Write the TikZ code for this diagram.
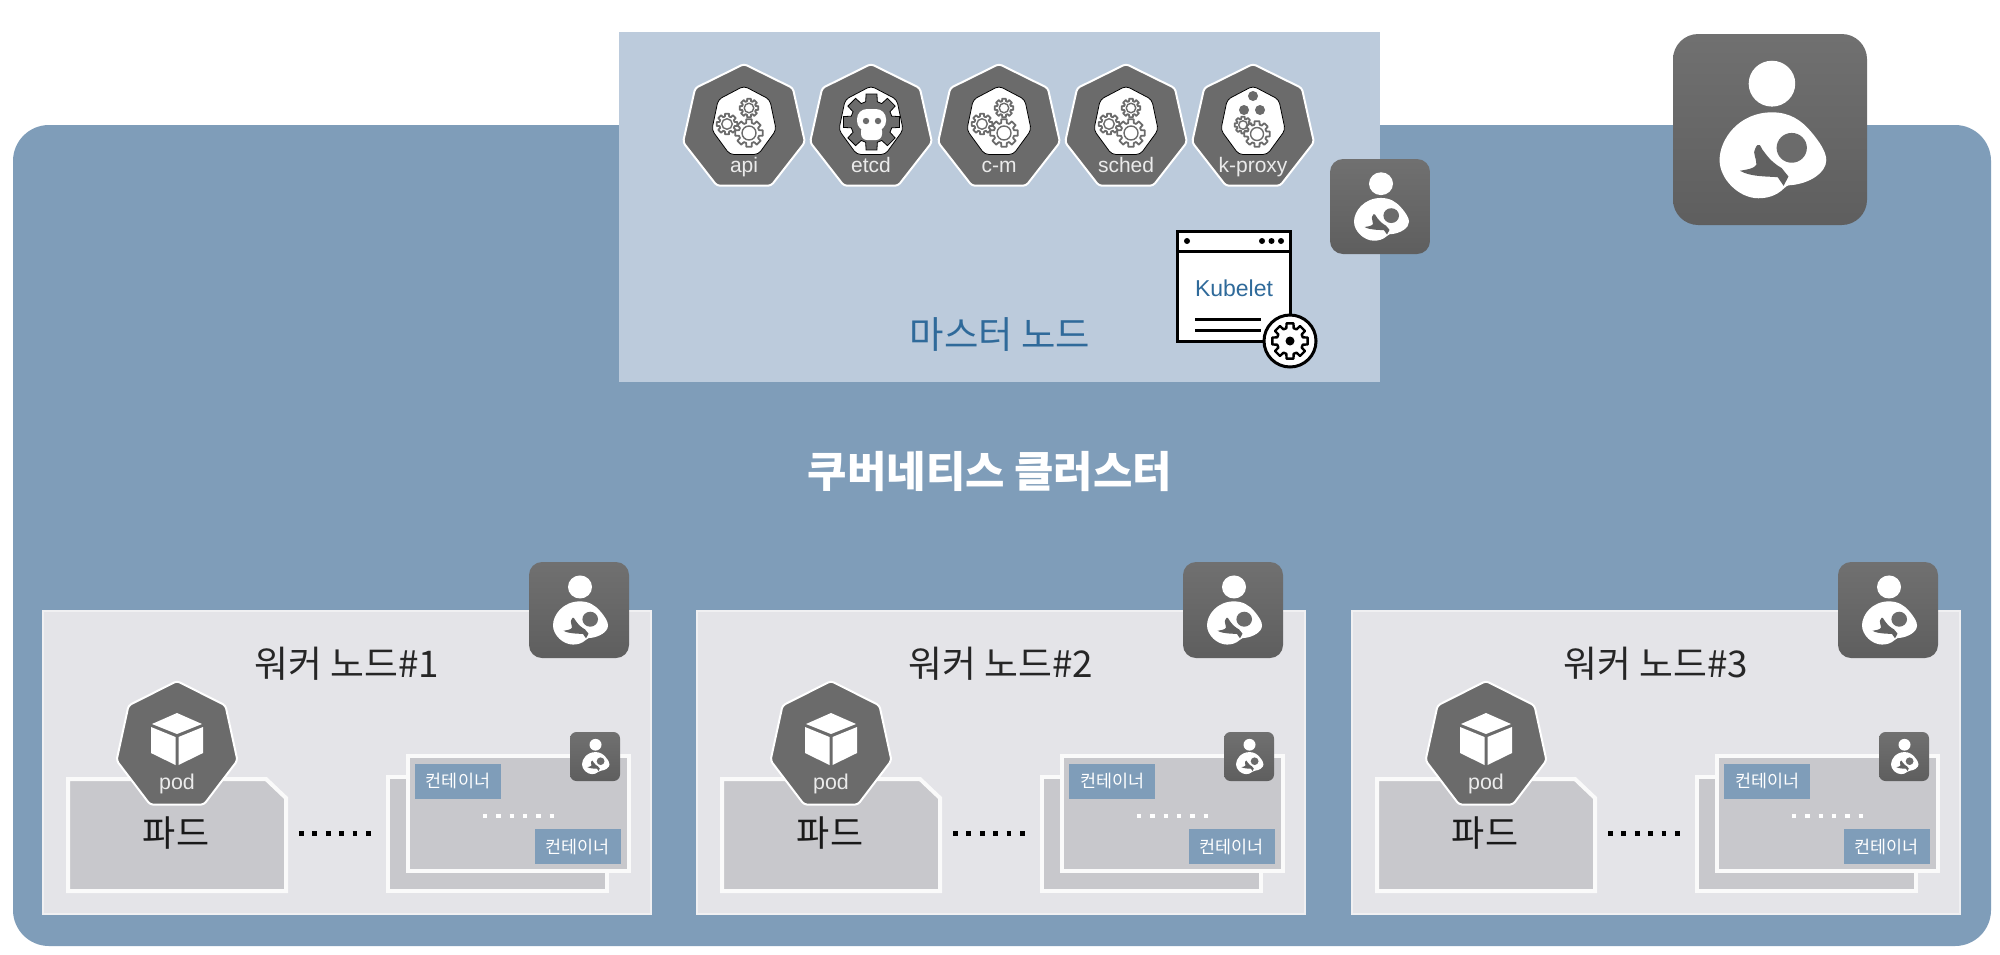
\documentclass[tikz,border=0pt]{standalone}
\usepackage{fontspec}
\usetikzlibrary{calc}
\setmainfont{Liberation Sans}
\newfontfamily\krfont{Noto Sans CJK KR}
\definecolor{clusterblue}{HTML}{7F9DB9}
\definecolor{masterblue}{HTML}{BCCBDC}
\definecolor{workergrey}{HTML}{E4E4E8}
\definecolor{podgrey}{HTML}{C8C8CC}
\definecolor{heptgrey}{HTML}{6B6B6B}
\definecolor{titleblue}{HTML}{2F6A9A}
\tikzset{
  clusterbox/.style={fill=clusterblue,rounded corners=18pt},
  masterbox/.style={fill=masterblue},
  workerbox/.style={fill=workergrey,draw=white!45!workergrey,line width=1pt},
  podbox/.style={fill=podgrey,draw=white!90!podgrey,line width=2pt},
  hept/.style={fill=heptgrey,draw=white,line width=1pt,rounded corners=1.5pt},
  heptin/.style={fill=white,rounded corners=2pt},
  hlabel/.style={text=white!92!black,font=\fontsize{10.5}{12}\selectfont,inner sep=0pt,anchor=base},
  worktitle/.style={text=black!85,font=\krfont\fontsize{18.4}{20}\selectfont,inner sep=0pt},
  tag/.style={fill=clusterblue,text=white,font=\krfont\fontsize{8.7}{10}\selectfont,minimum width=43pt,minimum height=17.5pt,inner sep=0pt},
  blackdots/.style={line width=2.5pt,dash pattern=on 2.4pt off 4.3pt,black},
  whitedots/.style={line width=2.2pt,dash pattern=on 2.2pt off 4.46pt,white},
}
% nursing icon: left, top, width, height
\newcommand{\nurseicon}[4]{%
  \begin{scope}[shift={(#1,#2)},xscale=#3/100,yscale=#4/100]
    \shade[top color=black!56,middle color=black!67,bottom color=black!63,rounded corners=#3*0.065pt]
      (0,0) rectangle (100,100);
    \fill[white] (51,26) circle (12);
    \fill[white] (51,41) .. controls (60,41) and (66,45) .. (71,51)
      .. controls (76,57) and (79,62) .. (79,66)
      .. controls (79,73) and (70,78) .. (62,79)
      .. controls (60,79) and (59,79) .. (57,81)
      .. controls (53,85) and (48,86) .. (44,86)
      .. controls (34,86) and (24,76) .. (24,66)
      .. controls (24,55) and (34,41) .. (51,41) -- cycle;
    \fill[black!58] (61.2,59.6) circle (7.8);
    \fill[black!62] (34.5,71.6) .. controls (38,71) and (42,70.5) .. (43,68.4)
      .. controls (43,65) and (41,62) .. (42.2,60.5)
      .. controls (43,58) and (44,57.5) .. (44.8,58.2)
      .. controls (46,60) and (46,61) .. (47.4,62.3)
      .. controls (50,66) and (53,68.5) .. (56,70.2)
      -- (59.5,74.6) -- (57,79.5) -- (54,75)
      .. controls (50,74.5) and (40,75) .. (34.5,71.6) -- cycle;
  \end{scope}}
% gear: cx, cy, r, style
\newcommand{\gearpath}[4]{%
  \begin{scope}[shift={(#1,#2)}]
    \draw[#4] (-11:#3)
      \foreach \a in {0,45,...,315}{ -- (\a-11:#3) -- (\a+11:#3) -- (\a+16:#3*0.74) -- (\a+29:#3*0.74) } -- cycle;
  \end{scope}}
\newcommand{\hepta}[5]{% cx, cy, Rx, Ry, style
  \draw[#5] ($(#1,#2)+(-90:#3 and #4)$)
    \foreach \k in {1,...,6}{ -- ($(#1,#2)+(-90+\k*51.4286:#3 and #4)$) } -- cycle;}
\newcommand{\opengear}[3]{% cx cy r
  \gearpath{#1}{#2}{#3}{draw=heptgrey,fill=white,line width=0.9pt,line join=round}
  \fill[white] (#1,#2) circle ({#3*0.45});
  \draw[heptgrey,line width=0.7pt] (#1,#2) circle ({#3*0.5});}
\newcommand{\cogs}[1]{% cx, three gears
  \opengear{#1+5}{108}{9.5}
  \opengear{#1-17}{124}{10.5}
  \opengear{#1+5}{133}{14}}
\newcommand{\worker}[2]{% x shift, number
  \begin{scope}[shift={(#1,0)}]
    \path[workerbox] (43,611) rectangle (651,914);
    \nurseicon{529}{562}{100}{96}
    \node[worktitle] (title#2) at (347,664) {워커 노드\#{}#2};
    \path[podbox] (68,779) -- (266,779) -- (286,798) -- (286,891) -- (68,891) -- cycle;
    \hepta{177}{746}{62}{65}{hept}
    \fill[white] (177,713) -- (202,724) -- (177,734) -- (152,724) -- cycle;
    \fill[white] (151,727) -- (175.5,737) -- (175.5,765) -- (151,753) -- cycle;
    \fill[white] (203,727) -- (178.5,737) -- (178.5,765) -- (203,753) -- cycle;
    \node[hlabel,font=\fontsize{10.7}{12}\selectfont] (podlabel#2) at (177,789) {pod};
    \node[inner sep=0pt,text=black!90,font=\krfont\fontsize{18}{20}\selectfont] (pod#2) at (176,833) {파드};
    \draw[blackdots] (299,833) -- (371,833);
    \path[podbox] (388,777) rectangle (607,891);
    \path[podbox] (408,756) rectangle (629,871);
    \nurseicon{570}{732}{50}{49}
    \node[tag] (tagA#2) at (458,781) {컨테이너};
    \draw[whitedots] (483,816) -- (554,816);
    \node[tag] (tagB#2) at (577.5,846.5) {컨테이너};
  \end{scope}}
\begin{document}
\begin{tikzpicture}[x=0.5pt,y=-0.5pt]
  \useasboundingbox (0,0) rectangle (2000,954);
  \fill[white] (0,0) rectangle (2000,954);
  \path[clusterbox] (13,125) rectangle (1991,946);
  \path[masterbox] (619,32) rectangle (1380,382);
  \nurseicon{1673}{34}{194}{191}
  \nurseicon{1330}{159}{100}{95}

  % master components
  \foreach \c in {744,871,999,1126,1253}{ \hepta{\c}{128}{62.5}{64}{hept} \hepta{\c}{122}{33}{36}{heptin} }
  \cogs{744}
  \cogs{999}
  \cogs{1126}
  \gearpath{871.5}{122}{28.5}{fill=heptgrey}
  \fill[white,rounded corners=5pt] (857,109) rectangle (886,131);
  \fill[white,rounded corners=3pt] (861,125) rectangle (882,140);
  \fill[heptgrey] (866,121) circle (3.2) (878,121) circle (3.2);
  \fill[heptgrey] (1253,96) circle (5) (1244,110) circle (5) (1260,110) circle (5);
  \opengear{1243}{125}{8.5}
  \opengear{1257}{134}{13}
  \node[hlabel] (api) at (744,172) {api};
  \node[hlabel] (etcd) at (871,172) {etcd};
  \node[hlabel] (cm) at (999,172) {c-m};
  \node[hlabel] (sched) at (1126,172) {sched};
  \node[hlabel] (kproxy) at (1253,172) {k-proxy};

  % kubelet window
  \draw[black,fill=white,line width=1.5pt] (1177,231) rectangle (1290,341);
  \draw[black,line width=1.5pt] (1177,251) -- (1290,251);
  \fill[black] (1187,241) circle (3) (1262,241) circle (3) (1271.5,241) circle (3) (1281,241) circle (3);
  \node[inner sep=0pt,text=titleblue,font=\fontsize{11.5}{13}\selectfont] (kubelet) at (1234,288) {Kubelet};
  \draw[black,line width=1.5pt] (1195,319) -- (1261,319) (1195,330) -- (1261,330);
  \draw[black,fill=white,line width=1.5pt] (1290,341) circle (26);
  \gearpath{1290}{341}{18}{draw=black,fill=white,line width=1.2pt,line join=round}
  \fill[black] (1290,341) circle (4.5);

  \node[inner sep=0pt,text=titleblue,font=\krfont\fontsize{18.7}{22}\selectfont] (mastertitle) at (1000,335) {마스터 노드};
  \node[inner sep=0pt,text=white,font=\krfont\bfseries\fontsize{21.4}{25}\selectfont] (clustertitle) at (990,471) {쿠버네티스 클러스터};

  \worker{0}{1}
  \worker{654}{2}
  \worker{1309}{3}
\end{tikzpicture}
\end{document}
